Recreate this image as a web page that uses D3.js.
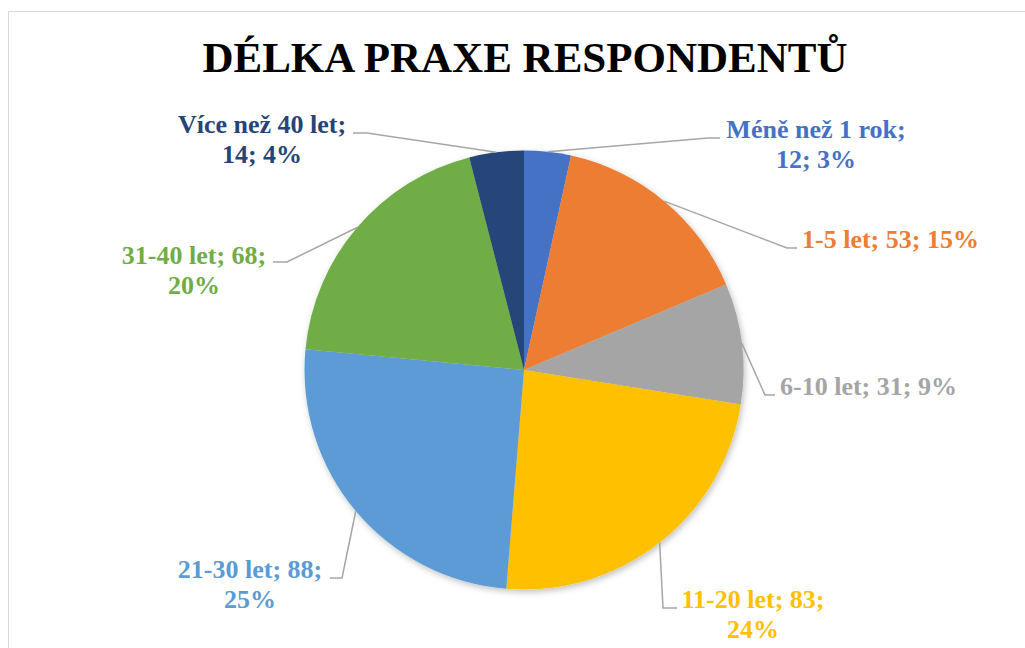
<!DOCTYPE html>
<html>
<head>
<meta charset="utf-8">
<script src="https://cdn.jsdelivr.net/npm/d3@7"></script>
<style>
  html, body { margin: 0; padding: 0; background: #fff; }
  svg { display: block; }
  text { font-family: "Liberation Serif", "Times New Roman", serif; font-weight: bold; }
</style>
</head>
<body>
<svg id="chart" width="1025" height="648"></svg>
<script>
// ---- data ----
const title = "DÉLKA PRAXE RESPONDENTŮ";
const categories = ["Méně než 1 rok", "1-5 let", "6-10 let", "11-20 let", "21-30 let", "31-40 let", "Více než 40 let"];
const values = [12, 53, 31, 83, 88, 68, 14];
const percentLabels = ["3%", "15%", "9%", "24%", "25%", "20%", "4%"];
const colors = ["#4472C4", "#ED7D31", "#A5A5A5", "#FFC000", "#5B9BD5", "#70AD47", "#264478"];

// ---- layout (label placement) ----
// wrap: 0 = single line, 1 = break after category, 2 = break after value
const labelLayout = [
  { x: 816, y: 138, anchor: "middle", wrap: 1, elbow: [708, 138], end: [720, 138] },
  { x: 802, y: 248, anchor: "start",  wrap: 0, elbow: [787, 248], end: [797, 248] },
  { x: 780, y: 395, anchor: "start",  wrap: 0, elbow: [765, 395], end: [775, 395] },
  { x: 753, y: 608, anchor: "middle", wrap: 2, elbow: [663, 608], end: [677, 608] },
  { x: 250, y: 578, anchor: "middle", wrap: 2, elbow: [342, 578], end: [330, 578] },
  { x: 194, y: 264, anchor: "middle", wrap: 2, elbow: [287, 262], end: [273, 262] },
  { x: 262, y: 133, anchor: "middle", wrap: 1, elbow: [367, 133], end: [353, 133] }
];

const W = 1025, H = 648;
const cx = 524, cy = 370, R = 219.5;
const svg = d3.select("#chart");

// border
svg.append("rect")
  .attr("x", 8.5).attr("y", 11.5)
  .attr("width", 1040).attr("height", 700)
  .attr("fill", "#fff").attr("stroke", "#D9D9D9").attr("stroke-width", 1);

// shadow filter
const defs = svg.append("defs");
const f = defs.append("filter").attr("id", "shadow")
  .attr("x", "-10%").attr("y", "-10%").attr("width", "120%").attr("height", "120%");
f.append("feDropShadow").attr("dx", 1.5).attr("dy", 2.5).attr("stdDeviation", 3)
  .attr("flood-color", "#000").attr("flood-opacity", 0.25);

// title
svg.append("text")
  .attr("x", 525).attr("y", 72)
  .attr("text-anchor", "middle")
  .attr("font-size", 43)
  .attr("fill", "#000")
  .text(title);

const data = categories.map((c, i) => ({ cat: c, value: values[i], pct: percentLabels[i], color: colors[i], lay: labelLayout[i] }));

const pie = d3.pie().sort(null).value(d => d.value);
const arcs = pie(data);
const arc = d3.arc().innerRadius(0).outerRadius(R);

const g = svg.append("g").attr("transform", `translate(${cx},${cy})`);
g.append("g").attr("filter", "url(#shadow)")
  .selectAll("path").data(arcs).join("path")
  .attr("d", arc)
  .attr("fill", d => d.data.color);

// leader lines
const outerPt = d => {
  const a = (d.startAngle + d.endAngle) / 2;
  return [cx + R * Math.sin(a), cy - R * Math.cos(a)];
};
svg.append("g").selectAll("polyline").data(arcs).join("polyline")
  .attr("points", d => [outerPt(d), d.data.lay.elbow, d.data.lay.end].map(p => p.join(",")).join(" "))
  .attr("fill", "none")
  .attr("stroke", "#A6A6A6")
  .attr("stroke-width", 1.5);

// labels
const lineH = 30;
const labels = svg.append("g").selectAll("text").data(data).join("text")
  .attr("x", d => d.lay.x).attr("y", d => d.lay.y)
  .attr("text-anchor", d => d.lay.anchor)
  .attr("font-size", 26)
  .attr("fill", d => d.color);
labels.each(function(d) {
  let lines;
  if (d.lay.wrap === 0) lines = [`${d.cat}; ${d.value}; ${d.pct}`];
  else if (d.lay.wrap === 1) lines = [`${d.cat};`, `${d.value}; ${d.pct}`];
  else lines = [`${d.cat}; ${d.value};`, d.pct];
  const t = d3.select(this);
  lines.forEach((ln, i) => {
    t.append("tspan").attr("x", d.lay.x).attr("dy", i === 0 ? 0 : lineH).text(ln);
  });
});
</script>
</body>
</html>
